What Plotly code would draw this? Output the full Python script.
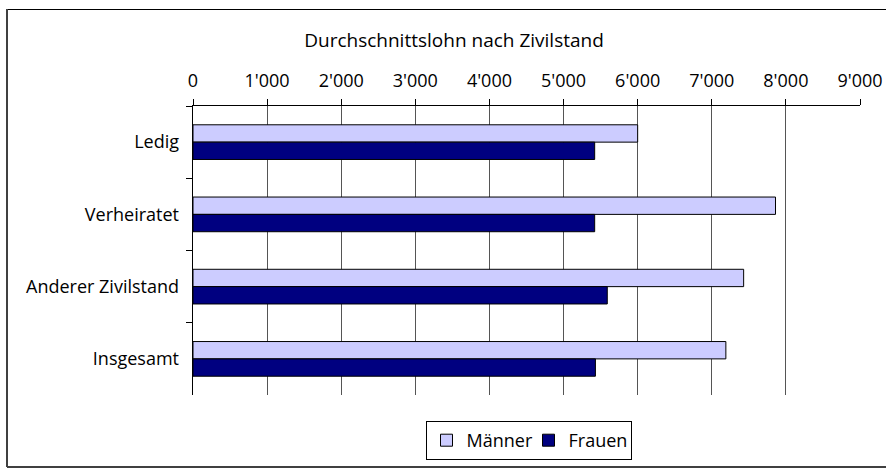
import plotly.graph_objects as go

categories = ["Ledig", "Verheiratet", "Anderer Zivilstand", "Insgesamt"]
maenner = [6000, 7860, 7430, 7190]
frauen = [5420, 5420, 5590, 5430]
tick_vals = [0, 1000, 2000, 3000, 4000, 5000, 6000, 7000, 8000, 9000]
tick_text = ["0", "1'000", "2'000", "3'000", "4'000", "5'000", "6'000", "7'000", "8'000", "9'000"]

font_family = "Open Sans, DejaVu Sans, sans-serif"

W, H = 886, 468
plot_l, plot_r, plot_t, plot_b = 193, 860, 106, 395
pw, ph = plot_r - plot_l, plot_b - plot_t


def px_x(v):
    return (v - plot_l) / pw


def px_y(v):
    return (plot_b - v) / ph


fig = go.Figure()
fig.add_trace(go.Bar(
    y=categories, x=maenner, name="Männer", orientation="h",
    marker=dict(color="#CCCCFF", line=dict(color="black", width=1)),
))
fig.add_trace(go.Bar(
    y=categories, x=frauen, name="Frauen", orientation="h",
    marker=dict(color="#000080", line=dict(color="black", width=1)),
))

fig.update_layout(
    width=W, height=H,
    margin=dict(l=plot_l, r=W - plot_r, t=plot_t, b=H - plot_b, autoexpand=False),
    paper_bgcolor="white", plot_bgcolor="white",
    font=dict(family=font_family, size=18, color="black"),
    barmode="group", bargap=0.52, bargroupgap=0,
    title=dict(text="Durchschnittslohn nach Zivilstand", x=454 / W, xanchor="center",
               y=1 - 40 / H, yanchor="middle", yref="container",
               font=dict(family=font_family, size=19, color="black")),
    legend=dict(orientation="h", x=px_x(528.5), xanchor="center", y=px_y(421), yanchor="top",
                bordercolor="black", borderwidth=1, bgcolor="white",
                font=dict(size=18), itemwidth=30, traceorder="normal",
                entrywidth=57, entrywidthmode="pixels"),
    showlegend=True,
)

fig.update_xaxes(
    side="top", range=[0, 9000], tickvals=tick_vals, ticktext=tick_text,
    showgrid=True, gridcolor="#555555", gridwidth=1,
    ticks="outside", ticklen=6, tickcolor="black", ticklabelstandoff=5,
    showline=True, linecolor="black", linewidth=1, zeroline=False,
)
fig.update_yaxes(
    autorange="reversed", tickson="boundaries", ticks="outside", ticklen=6,
    tickcolor="black", showline=True, linecolor="black", linewidth=1,
    showgrid=False, ticksuffix="  ",
)

# outer chart frame (right edge lies outside the picture)
frame = [
    (7, 9.5, W + 5, 9.5, "black", 1),
    (7, 9, 7, 467, "#404040", 2),
    (7, 467, W + 5, 467, "#404040", 2),
]
for x0, y0, x1, y1, col, lw in frame:
    fig.add_shape(type="line", xref="paper", yref="paper",
                  x0=px_x(x0), x1=px_x(x1), y0=px_y(y0), y1=px_y(y1),
                  line=dict(color=col, width=lw), layer="below")

# drop the default page margin so the figure fills the window exactly
fig.write_html("out.html", config={"displayModeBar": False},
               post_script="document.body.style.margin='0';document.body.style.overflow='hidden';")
